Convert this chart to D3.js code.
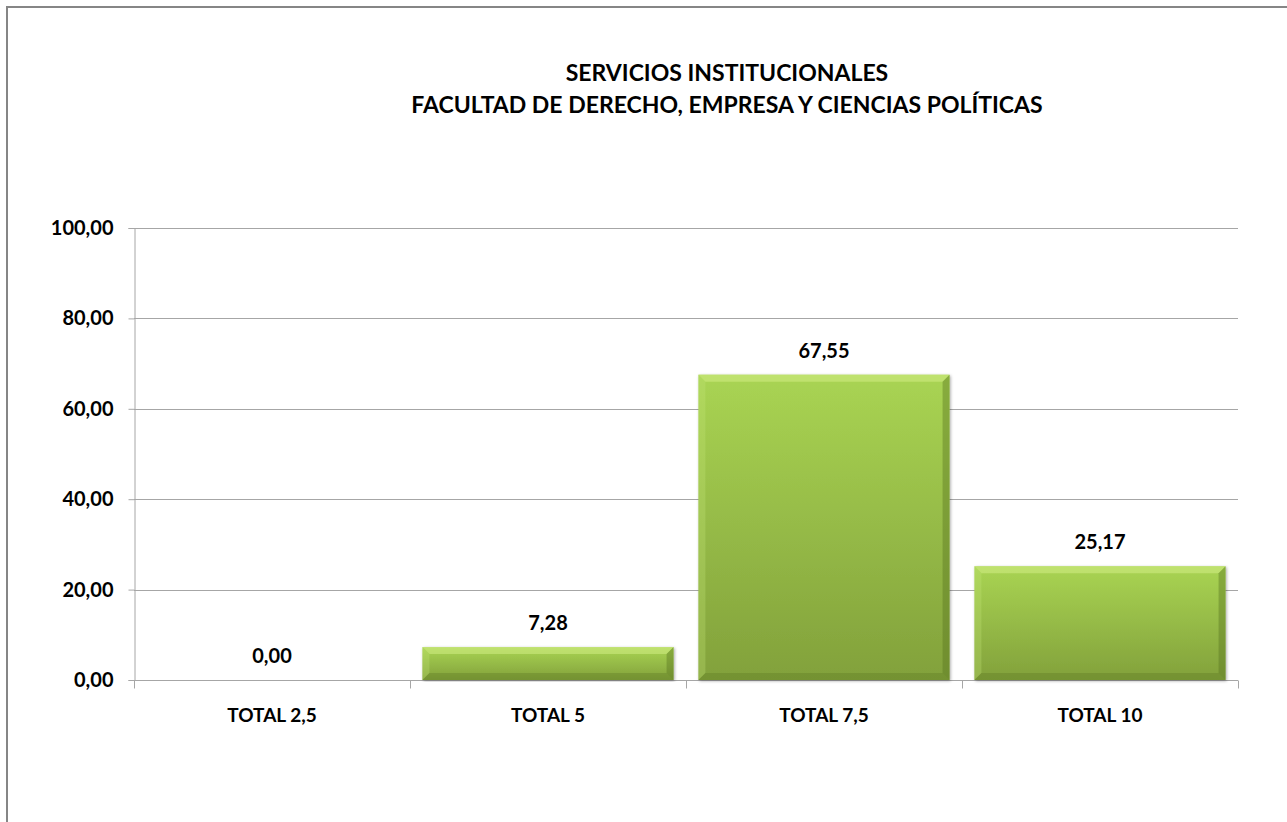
<!DOCTYPE html>
<html>
<head>
<meta charset="utf-8">
<script src="https://cdn.jsdelivr.net/npm/d3@7/dist/d3.min.js"></script>
<style>
  html, body { margin: 0; padding: 0; background: #ffffff; }
  svg { display: block; }
  text { font-family: Lato, "Open Sans", sans-serif; font-weight: bold; fill: #000; }
</style>
</head>
<body>
<svg id="chart" width="1287" height="822"></svg>
<script>
// Chart data
const categories = ["TOTAL 2,5", "TOTAL 5", "TOTAL 7,5", "TOTAL 10"];
const values = [0.00, 7.28, 67.55, 25.17];
const yTicks = [0, 20, 40, 60, 80, 100];
const titleLines = ["SERVICIOS INSTITUCIONALES", "FACULTAD DE DERECHO, EMPRESA Y CIENCIAS POLÍTICAS"];

const fmt = v => v.toFixed(2).replace(".", ",");

const svg = d3.select("#chart");
const W = 1287, H = 822;
const plot = { left: 134, right: 1238, top: 228, bottom: 680 };

// Outer chart frame
svg.append("rect")
  .attr("x", 7).attr("y", 7)
  .attr("width", W + 10).attr("height", H + 10)
  .attr("fill", "none").attr("stroke", "#868686").attr("stroke-width", 2);

// Title
svg.append("g").selectAll("text").data(titleLines).join("text")
  .attr("x", 727).attr("y", (d, i) => 81 + i * 32)
  .attr("text-anchor", "middle")
  .style("font-size", "23px")
  .text(d => d);

const x = d3.scaleBand().domain(categories)
  .range([plot.left, plot.right])
  .paddingInner(0.09).paddingOuter(0.045);
const y = d3.scaleLinear().domain([0, 100]).range([plot.bottom, plot.top]);

// Gridlines
svg.append("g").selectAll("line").data(yTicks.filter(t => t > 0)).join("line")
  .attr("x1", plot.left).attr("x2", plot.right)
  .attr("y1", d => Math.round(y(d)) + 0.5).attr("y2", d => Math.round(y(d)) + 0.5)
  .attr("stroke", "#a6a6a6").attr("stroke-width", 1);

// Y axis
const yAxis = svg.append("g")
  .attr("transform", `translate(${plot.left + 0.5},0)`)
  .call(d3.axisLeft(y).tickValues(yTicks).tickFormat(fmt).tickSize(6).tickPadding(15));
yAxis.select(".domain").attr("stroke", "#a6a6a6");
yAxis.selectAll(".tick line").attr("stroke", "#a6a6a6");
yAxis.selectAll(".tick text").style("font-size", "20px").style("font-family", "Lato, sans-serif").attr("fill", "#000");

// X axis: ticks at category boundaries
const xAxisG = svg.append("g").attr("transform", `translate(0,${plot.bottom + 0.5})`);
xAxisG.append("line").attr("x1", plot.left).attr("x2", plot.right)
  .attr("stroke", "#a6a6a6");
const bounds = d3.range(categories.length + 1).map(i => plot.left + (plot.right - plot.left) * i / categories.length);
xAxisG.selectAll("line.tk").data(bounds).join("line").attr("class", "tk")
  .attr("x1", d => Math.round(d) + 0.5).attr("x2", d => Math.round(d) + 0.5)
  .attr("y1", 0).attr("y2", 8).attr("stroke", "#a6a6a6");
xAxisG.selectAll("text").data(categories).join("text")
  .attr("x", d => x(d) + x.bandwidth() / 2)
  .attr("y", 41)
  .attr("text-anchor", "middle")
  .style("font-size", "19px")
  .text(d => d);

// Bar gradients
const defs = svg.append("defs");
const grad = defs.append("linearGradient").attr("id", "barGrad")
  .attr("x1", 0).attr("y1", 0).attr("x2", 0).attr("y2", 1);
grad.append("stop").attr("offset", "0%").attr("stop-color", "#a9d453");
grad.append("stop").attr("offset", "100%").attr("stop-color", "#82a13b");
const filt = defs.append("filter").attr("id", "shadow").attr("x", "-5%").attr("y", "-5%").attr("width", "110%").attr("height", "110%");
filt.append("feDropShadow").attr("dx", 1).attr("dy", 1).attr("stdDeviation", 1.5)
  .attr("flood-color", "#000").attr("flood-opacity", 0.35);

const data = categories.map((c, i) => ({ c, v: values[i] }));
const bars = svg.append("g").selectAll("g").data(data.filter(d => d.v > 0)).join("g");

bars.each(function (d) {
  const g = d3.select(this);
  const x0 = x(d.c), x1 = x0 + x.bandwidth();
  const y0 = y(d.v), y1 = y(0);
  const b = Math.min(7, (y1 - y0) / 2);
  g.append("rect")
    .attr("x", x0).attr("y", y0).attr("width", x1 - x0).attr("height", y1 - y0)
    .attr("fill", "url(#barGrad)").attr("filter", "url(#shadow)");
  // bevel edges
  g.append("polygon").attr("points", [[x0, y0], [x1, y0], [x1 - b, y0 + b], [x0 + b, y0 + b]].join(" "))
    .attr("fill", "#d6f08a").attr("opacity", 0.5);
  g.append("polygon").attr("points", [[x0, y0], [x0 + b, y0 + b], [x0 + b, y1 - b], [x0, y1]].join(" "))
    .attr("fill", "#c4e577").attr("opacity", 0.3);
  g.append("polygon").attr("points", [[x1, y0], [x1, y1], [x1 - b, y1 - b], [x1 - b, y0 + b]].join(" "))
    .attr("fill", "#55701f").attr("opacity", 0.4);
  g.append("polygon").attr("points", [[x0, y1], [x1, y1], [x1 - b, y1 - b], [x0 + b, y1 - b]].join(" "))
    .attr("fill", "#55701f").attr("opacity", 0.3);
});

// Value labels
svg.append("g").selectAll("text").data(data).join("text")
  .attr("x", d => x(d.c) + x.bandwidth() / 2)
  .attr("y", d => y(d.v) - 17)
  .attr("text-anchor", "middle")
  .style("font-size", "20px")
  .text(d => fmt(d.v));
</script>
</body>
</html>
